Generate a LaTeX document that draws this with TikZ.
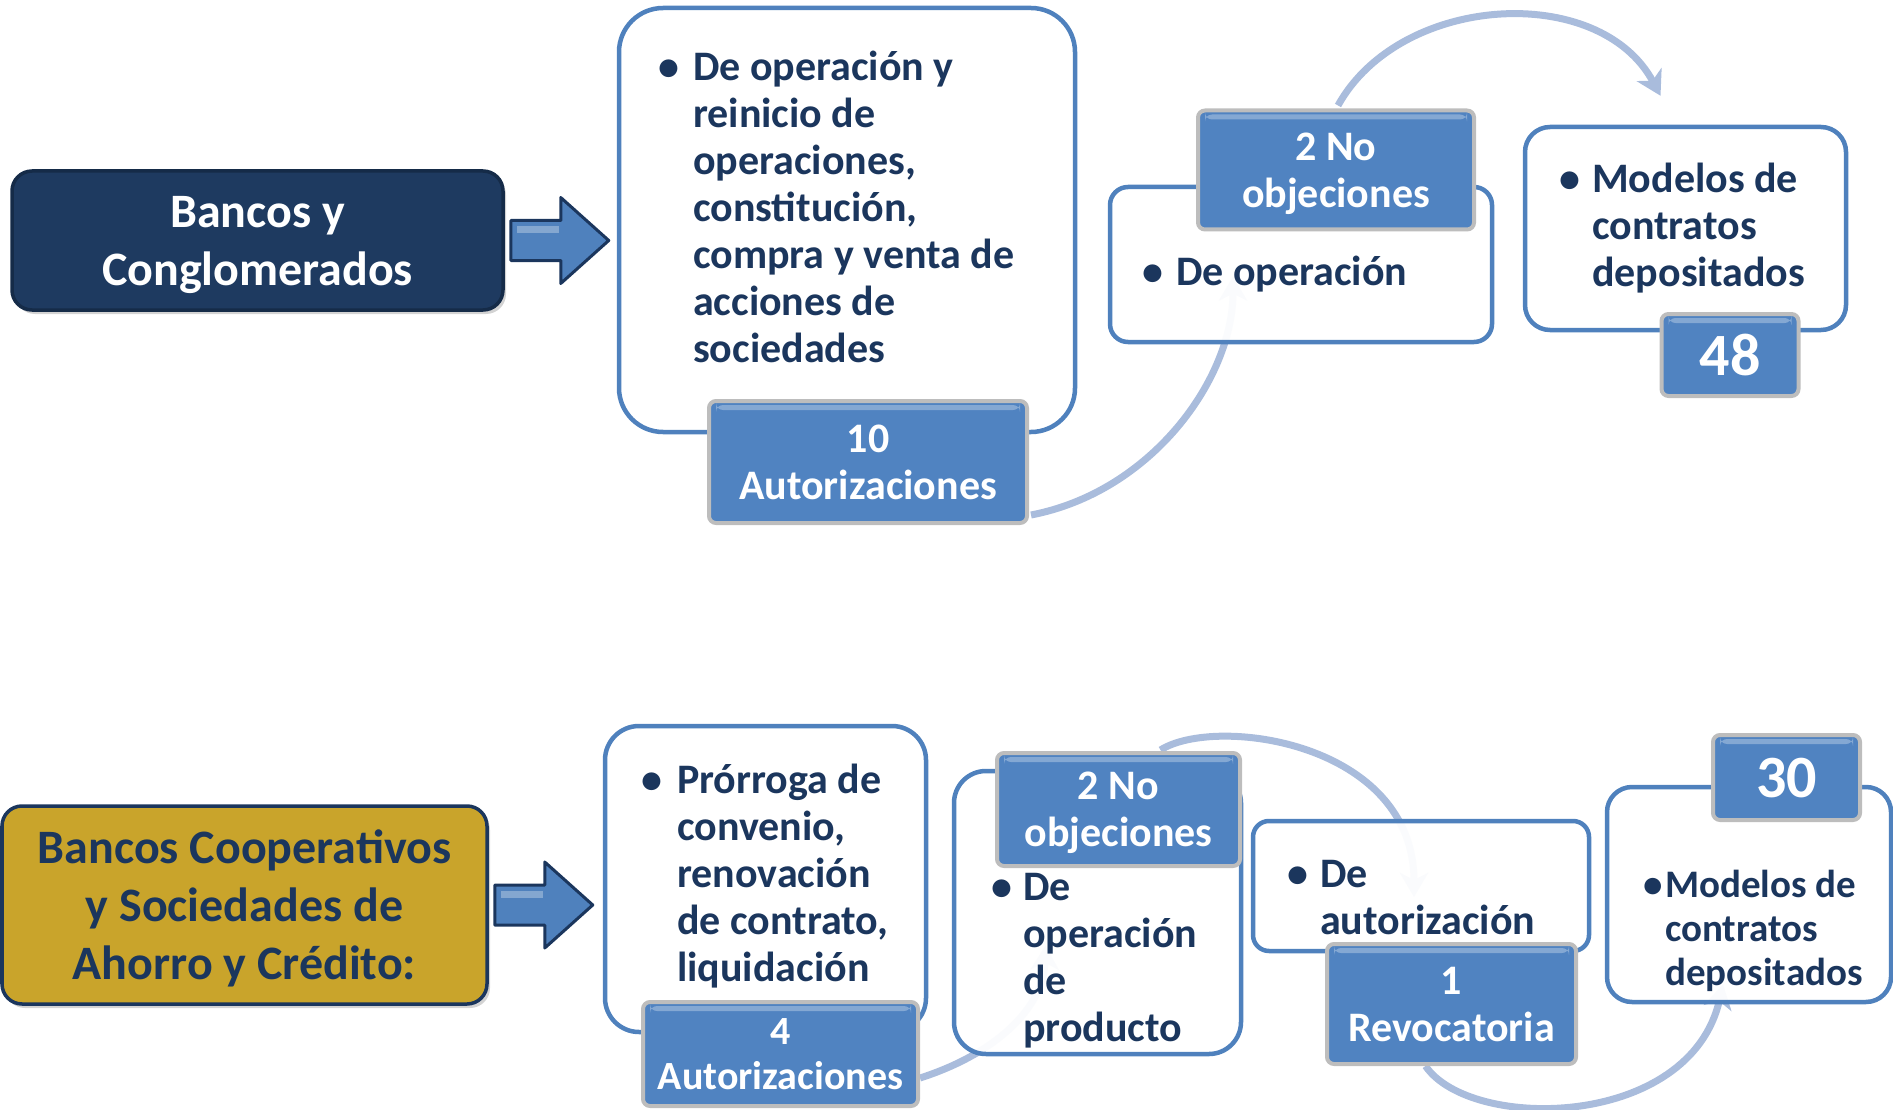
\documentclass[tikz,border=0pt]{standalone}
\usepackage{fontspec}
\setmainfont{Carlito}
\usepackage{tikz}
\usetikzlibrary{arrows.meta,shadows}

\definecolor{navy}{HTML}{1B365D}
\definecolor{headnavy}{HTML}{1E3A60}
\definecolor{headrim}{HTML}{152B48}
\definecolor{gold}{HTML}{C9A42B}
\definecolor{boxblue}{HTML}{4F81BD}
\definecolor{tagblue}{HTML}{5083C1}
\definecolor{tagrim}{HTML}{BDBDBD}
\definecolor{linkblue}{HTML}{A9BCDC}

\pgfdeclarelayer{bg}
\pgfsetlayers{bg,main}

\tikzset{
  box/.style={draw=boxblue, line width=4.5pt, fill=white, fill opacity=0.95,
    rounded corners=25pt, inner sep=0pt},
  tag/.style={draw=tagrim, line width=4pt, fill=tagblue, rounded corners=7pt,
    text=white, align=center, inner sep=0pt, text depth=0pt,
    font=\bfseries\fontsize{42}{47}\selectfont,
    path picture={\fill[white, opacity=0.3]
      ([shift={(7pt,-4pt)}]path picture bounding box.north west) rectangle
      ([shift={(-7pt,-9pt)}]path picture bounding box.north east);}},
  head/.style={line width=3.5pt, rounded corners=20pt, align=center,
    inner sep=0pt, text depth=0pt, font=\bfseries\fontsize{48}{58}\selectfont,
    drop shadow={opacity=0.35, shadow xshift=3pt, shadow yshift=-4pt}},
  item/.style={anchor=base west, inner sep=0pt, text=navy,
    font=\bfseries\fontsize{42}{47}\selectfont},
  link/.style={draw=linkblue, line width=7pt,
    -{Stealth[length=24pt, width=28pt, inset=7pt]}},
  blockarrow/.style={fill=boxblue, draw=navy, line width=3pt, line join=round},
}

% bullet with hanging lines
\newcommand{\bulletlist}[2]{\parbox[t]{420pt}{\hangindent=#1\hangafter=1\makebox[#1][l]{\textbullet}#2}}

\begin{document}
\begin{tikzpicture}[x=1pt, y=-1pt]
  \useasboundingbox (0,0) rectangle (1893,1110);

  % top row
  \node[head, fill=headnavy, draw=headrim, text=white,
    minimum width=491pt, minimum height=139pt] (bancos) at (257.5,240.5)
    {Bancos y\\Conglomerados};
  \draw[blockarrow] ([shift={(6,-20)}]bancos.east) -- ++(50,0) -- ++(0,-23)
    -- ++(48,43) -- ++(-48,43) -- ++(0,-23) -- ++(-50,0) -- cycle;
  \fill[white, opacity=0.3] ([shift={(12,-14)}]bancos.east) rectangle ++(42,7);

  \node[box, rounded corners=44pt, minimum width=456pt, minimum height=424pt] (aut) at (847,220) {};
  \node[box, rounded corners=18pt, minimum width=382pt, minimum height=155pt] (obj) at (1301,264.5) {};
  \node[box, minimum width=321pt, minimum height=203pt] (dep) at (1685.5,228.5) {};

  \node[tag, minimum width=318pt, minimum height=122pt] (autn) at (868,462) {10\\Autorizaciones};
  \node[tag, minimum width=276pt, minimum height=119pt] (objn) at (1336,170) {2 No\\objeciones};
  \node[tag, minimum width=137pt, minimum height=82pt,
    font=\bfseries\fontsize{60}{66}\selectfont] (depn) at (1730,355) {48};

  \node[item] (autt) at (658,81) {\bulletlist{35pt}{De operación y\\reinicio de\\operaciones,\\constitución,\\compra y venta de\\acciones de\\sociedades}};
  \node[item] (objt) at (1142,285) {\bulletlist{34pt}{De operación}};
  \node[item] (dept) at (1559,193) {\bulletlist{33pt}{Modelos de\\contratos\\depositados}};

  % bottom row
  \node[head, fill=gold, draw=navy, text=navy,
    minimum width=485pt, minimum height=198pt] (coop) at (244.5,905)
    {Bancos Cooperativos\\y Sociedades de\\Ahorro y Crédito:};
  \draw[blockarrow] ([shift={(6,-20)}]coop.east) -- ++(50,0) -- ++(0,-23)
    -- ++(48,43) -- ++(-48,43) -- ++(0,-23) -- ++(-50,0) -- cycle;
  \fill[white, opacity=0.3] ([shift={(12,-14)}]coop.east) rectangle ++(42,7);

  \node[box, rounded corners=34pt, minimum width=321pt, minimum height=306pt] (aut2) at (765.5,879) {};
  \node[box, rounded corners=32pt, minimum width=287pt, minimum height=283pt] (obj2) at (1097.5,912.5) {};
  \node[box, rounded corners=16pt, minimum width=336pt, minimum height=130pt] (rev) at (1421,886) {};
  \node[box, minimum width=284pt, minimum height=215pt] (dep2) at (1749,894.5) {};

  \node[tag, minimum width=275pt, minimum height=104pt,
    font=\bfseries\fontsize{40}{45}\selectfont] (aut2n) at (780.5,1054) {4\\Autorizaciones};
  \node[tag, minimum width=243pt, minimum height=113pt] (obj2n) at (1118.5,809.5) {2 No\\objeciones};
  \node[tag, minimum width=249pt, minimum height=120pt] (revn) at (1451.5,1004) {1\\Revocatoria};
  \node[tag, minimum width=147pt, minimum height=85pt,
    font=\bfseries\fontsize{60}{66}\selectfont] (dep2n) at (1786.5,777.5) {30};

  \node[item] (aut2t) at (641,793) {\bulletlist{36pt}{Prórroga de\\convenio,\\renovación\\de contrato,\\liquidación}};
  \node[item] (obj2t) at (991,900) {\bulletlist{32pt}{De\\operación\\de\\producto}};
  \node[item] (revt) at (1287,887) {\bulletlist{33pt}{De\\autorización}};
  \node[item, font=\bfseries\fontsize{39}{44}\selectfont] (dep2t) at (1643,897)
    {\bulletlist{22pt}{Modelos de\\contratos\\depositados}};

  % curved links behind the boxes
  \begin{pgfonlayer}{bg}
    \draw[link] ([shift={(2,-10)}]autn.south east) .. controls +(120,-23) and +(0,103) .. ([shift={(-68,12)}]obj.center);
    \draw[link] ([shift={(2,-3)}]objn.north) .. controls +(62,-112) and +(-61,-114) .. ([shift={(-25,-29)}]dep.north);
    \draw[link] ([shift={(0,24)}]aut2n.east) .. controls +(72,-23) and +(-2,65) .. ([shift={(-52,33)}]obj2.center);
    \draw[link] ([shift={(42,-1)}]obj2n.north) .. controls +(55,-35) and +(0,-155) .. ([shift={(-7,11)}]rev.center);
    \draw[link] ([shift={(-26,0)}]revn.south) .. controls +(45,66) and +(-33,145) .. ([shift={(-26,90)}]dep2.center);
  \end{pgfonlayer}
\end{tikzpicture}
\end{document}
